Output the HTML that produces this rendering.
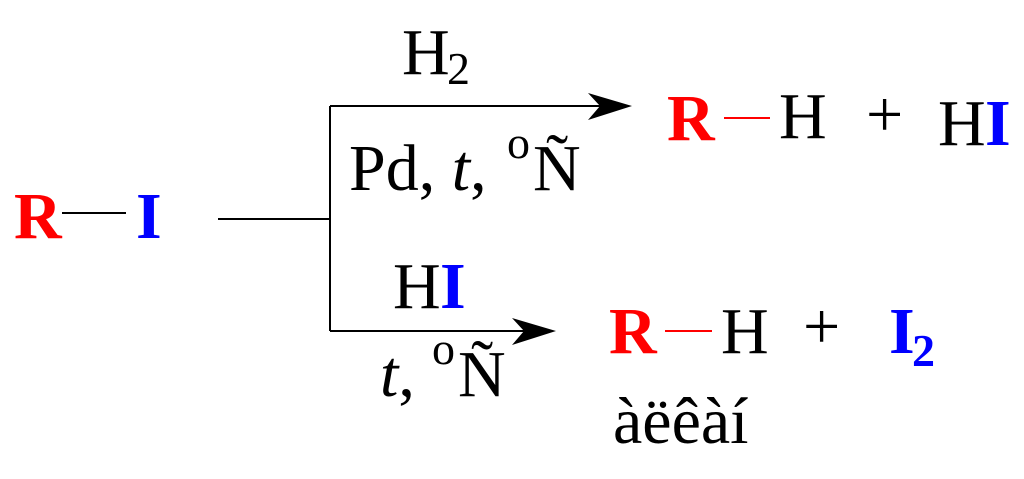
<!DOCTYPE html>
<html><head><meta charset="utf-8"><style>
html,body{margin:0;padding:0;background:#fff;width:1024px;height:479px;overflow:hidden}
text{font-family:"Liberation Serif",serif;font-size:66px}
.r{fill:#ff0000;font-weight:bold}
.b{fill:#0000ff;font-weight:bold}
</style></head><body>
<svg width="1024" height="479" viewBox="0 0 1024 479" xmlns="http://www.w3.org/2000/svg">
<g stroke="#000" stroke-width="2" fill="none">
<path d="M218 219 H330 M330 106 V331 M330 106 H600 M330 331 H525"/>
<line x1="62" y1="213" x2="126" y2="213"/>
</g>
<path d="M632 106 L588 93 L600 106 L588 120 Z" fill="#000"/>
<path d="M556 331 L512 318 L524 331 L512 345 Z" fill="#000"/>
<g stroke="#ff0000" stroke-width="2">
<line x1="724" y1="118" x2="770" y2="118"/>
<line x1="665" y1="331" x2="712" y2="331"/>
</g>
<text x="402" y="74">H</text><text x="447" y="84" style="font-size:46px">2</text>
<text x="349" y="190">Pd, <tspan font-style="italic">t</tspan>, </text>
<text x="507" y="158" style="font-size:46px">o</text>
<text x="533" y="190">Ñ</text>
<text x="14" y="238" class="r">R</text>
<text x="136" y="238" class="b">I</text>
<text x="667" y="140" class="r">R</text>
<text x="779" y="138">H</text>
<text x="866" y="136">+</text>
<text x="938" y="145">H</text><text x="985" y="145" class="b">I</text>
<text x="393" y="308">H</text><text x="440" y="308" class="b">I</text>
<text x="380" y="396"><tspan font-style="italic">t</tspan>,</text>
<text x="432" y="364" style="font-size:46px">o</text>
<text x="458" y="396">Ñ</text>
<text x="609" y="353" class="r">R</text>
<text x="721" y="353">H</text>
<text x="803" y="348">+</text>
<text x="889" y="353" class="b">I</text>
<text x="912" y="366" class="b" style="font-size:46px">2</text>
<text x="613" y="443">àëêàí</text>
</svg>
</body></html>
